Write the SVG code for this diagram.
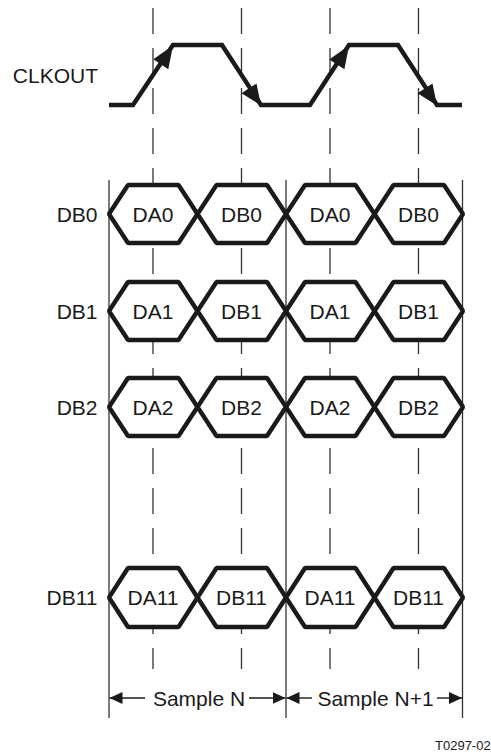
<svg xmlns="http://www.w3.org/2000/svg" width="491" height="754" viewBox="0 0 491 754">
<style>
text{font-family:"Liberation Sans",Arial,sans-serif;font-size:21px;fill:#1a1a1a}
.lbl{text-anchor:end}
.mid{text-anchor:middle}
.solid{stroke:#333;stroke-width:1.3;fill:none}
.dash{stroke:#333;stroke-width:1.3;fill:none;stroke-dasharray:26 14}
.hex{fill:#fff;stroke:#1a1a1a;stroke-width:4.4;stroke-linejoin:bevel}
.wave{fill:none;stroke:#1a1a1a;stroke-width:4.4;stroke-linejoin:miter}
.head{fill:#1a1a1a}
.dim{stroke:#1a1a1a;stroke-width:1.4;fill:none;marker-end:url(#ah)}
.small{font-size:13px}
</style>
<defs>
<marker id="ah" markerUnits="userSpaceOnUse" markerWidth="13" markerHeight="12" refX="13" refY="6" orient="auto">
<path d="M0,0 L13,6 L0,12 Z" fill="#1a1a1a"/>
</marker>
</defs>
<g id="guides">
<line class="dash" x1="153" y1="8" x2="153" y2="669"/>
<line class="dash" x1="241.5" y1="8" x2="241.5" y2="669"/>
<line class="dash" x1="330" y1="8" x2="330" y2="669"/>
<line class="dash" x1="418.5" y1="8" x2="418.5" y2="669"/>
<line class="solid" x1="109" y1="180" x2="109" y2="718"/>
<line class="solid" x1="286" y1="180" x2="286" y2="718"/>
<line class="solid" x1="462.5" y1="180" x2="462.5" y2="718"/>
</g>
<g id="clkout">
<text class="lbl" x="98" y="83">CLKOUT</text>
<polyline class="wave" points="109,105 133,105 173,45 222,45 261,105 310,105 349,45 398,45 437,105 462,105"/>
<polygon class="head" points="173,45.5 168.3,69.2 153.3,59.2"/>
<polygon class="head" points="261,105.5 241.5,93.3 256.5,83.5"/>
<polygon class="head" points="349,45.5 344.4,69.2 329.3,59.4"/>
<polygon class="head" points="437,105.5 417.5,93.3 432.5,83.5"/>
</g>
<g id="db0">
<text class="lbl" x="97.5" y="221.5">DB0</text>
<polygon class="hex" points="109,214 128,185 178.5,185 197.5,214 178.5,243 128,243"/>
<polygon class="hex" points="197.5,214 216.5,185 267,185 286,214 267,243 216.5,243"/>
<polygon class="hex" points="286,214 305,185 355.5,185 374.5,214 355.5,243 305,243"/>
<polygon class="hex" points="374.5,214 393.5,185 444,185 463,214 444,243 393.5,243"/>
<text class="mid" x="153" y="221.5">DA0</text>
<text class="mid" x="241.5" y="221.5">DB0</text>
<text class="mid" x="330" y="221.5">DA0</text>
<text class="mid" x="418.5" y="221.5">DB0</text>
</g>
<g id="db1">
<text class="lbl" x="97.5" y="318.5">DB1</text>
<polygon class="hex" points="109,311 128,282 178.5,282 197.5,311 178.5,340 128,340"/>
<polygon class="hex" points="197.5,311 216.5,282 267,282 286,311 267,340 216.5,340"/>
<polygon class="hex" points="286,311 305,282 355.5,282 374.5,311 355.5,340 305,340"/>
<polygon class="hex" points="374.5,311 393.5,282 444,282 463,311 444,340 393.5,340"/>
<text class="mid" x="153" y="318.5">DA1</text>
<text class="mid" x="241.5" y="318.5">DB1</text>
<text class="mid" x="330" y="318.5">DA1</text>
<text class="mid" x="418.5" y="318.5">DB1</text>
</g>
<g id="db2">
<text class="lbl" x="97.5" y="414.5">DB2</text>
<polygon class="hex" points="109,407 128,378 178.5,378 197.5,407 178.5,436 128,436"/>
<polygon class="hex" points="197.5,407 216.5,378 267,378 286,407 267,436 216.5,436"/>
<polygon class="hex" points="286,407 305,378 355.5,378 374.5,407 355.5,436 305,436"/>
<polygon class="hex" points="374.5,407 393.5,378 444,378 463,407 444,436 393.5,436"/>
<text class="mid" x="153" y="414.5">DA2</text>
<text class="mid" x="241.5" y="414.5">DB2</text>
<text class="mid" x="330" y="414.5">DA2</text>
<text class="mid" x="418.5" y="414.5">DB2</text>
</g>
<g id="db11">
<text class="lbl" x="97.5" y="605">DB11</text>
<polygon class="hex" points="109,597.5 128,568 178.5,568 197.5,597.5 178.5,627 128,627"/>
<polygon class="hex" points="197.5,597.5 216.5,568 267,568 286,597.5 267,627 216.5,627"/>
<polygon class="hex" points="286,597.5 305,568 355.5,568 374.5,597.5 355.5,627 305,627"/>
<polygon class="hex" points="374.5,597.5 393.5,568 444,568 463,597.5 444,627 393.5,627"/>
<text class="mid" x="153" y="605">DA11</text>
<text class="mid" x="241.5" y="605">DB11</text>
<text class="mid" x="330" y="605">DA11</text>
<text class="mid" x="418.5" y="605">DB11</text>
</g>
<g id="samples">
<line class="dim" x1="145" y1="698" x2="109.5" y2="698"/>
<line class="dim" x1="249" y1="698" x2="285.5" y2="698"/>
<text class="mid" x="199" y="705.5">Sample N</text>
<line class="dim" x1="312" y1="698" x2="286.5" y2="698"/>
<line class="dim" x1="437" y1="698" x2="462" y2="698"/>
<text class="mid" x="375.5" y="705.5">Sample N+1</text>
</g>
<text x="435" y="750" class="small">T0297-02</text>
</svg>
